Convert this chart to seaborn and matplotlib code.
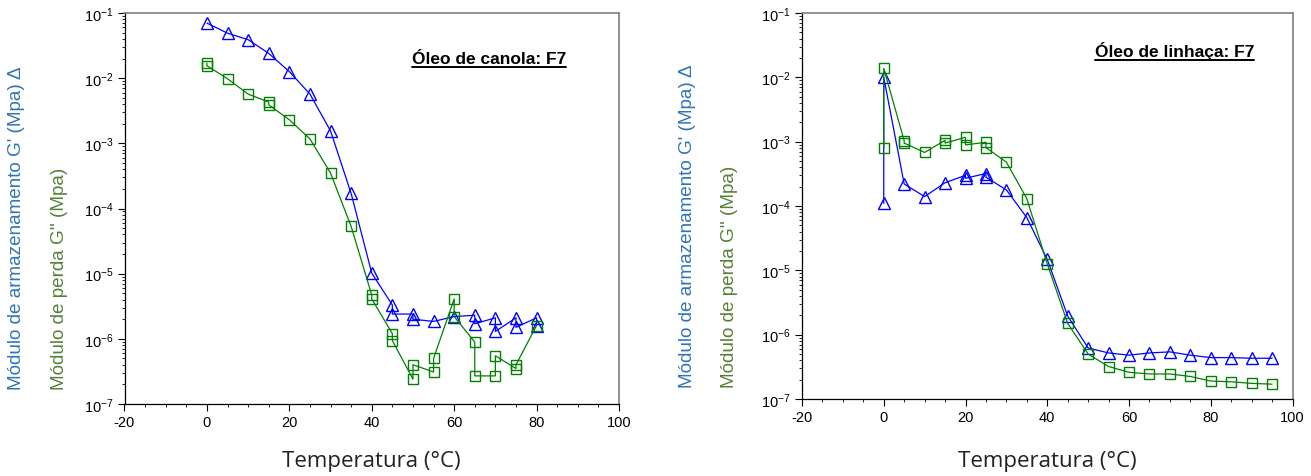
import numpy as np
import pandas as pd
import matplotlib
matplotlib.use("Agg")
import matplotlib.pyplot as plt
from matplotlib.ticker import LogLocator, MultipleLocator, NullFormatter
from matplotlib.lines import Line2D
import seaborn as sns

# ---------------- data ----------------
# Left panel: Óleo de canola F7
canola_g1_temp = [0, 5, 10, 15, 20, 25, 30, 35, 40, 45, 45, 50, 50, 55, 60, 65, 65, 70, 70, 75, 75, 80, 80]
canola_g1 = [0.070, 0.049, 0.039, 0.024, 0.0126, 0.0057, 0.00155, 1.7e-4, 1.02e-5,
             3.3e-6, 2.4e-6, 2.4e-6, 2.0e-6, 1.85e-6, 2.2e-6, 2.3e-6, 1.7e-6,
             2.1e-6, 1.3e-6, 2.1e-6, 1.5e-6, 2.1e-6, 1.6e-6]
canola_g2_temp = [0, 0, 5, 10, 15, 15, 20, 25, 30, 35, 40, 40, 45, 45, 50, 50, 55, 55,
                  60, 60, 65, 65, 70, 70, 75, 75, 80]
canola_g2 = [0.017, 0.0155, 0.0098, 0.0057, 0.0043, 0.0039, 0.0023, 0.00117, 3.5e-4,
             5.3e-5, 4.7e-6, 4.1e-6, 1.2e-6, 9.4e-7, 2.4e-7, 4.0e-7, 3.1e-7, 5.0e-7,
             4.1e-6, 2.2e-6, 8.9e-7, 2.7e-7, 2.7e-7, 5.5e-7, 3.5e-7, 4.0e-7, 1.6e-6]

# Right panel: Óleo de linhaça F7
linhaca_g1_temp = [0, 0, 5, 10, 15, 20, 20, 25, 25, 30, 35, 40, 45, 50, 55, 60, 65, 70,
                   75, 80, 85, 90, 95]
linhaca_g1 = [1.1e-4, 0.0100, 2.2e-4, 1.4e-4, 2.3e-4, 3.0e-4, 2.7e-4, 3.2e-4, 2.8e-4,
              1.78e-4, 6.6e-5, 1.48e-5, 1.95e-6, 6.2e-7, 5.2e-7, 4.8e-7, 5.2e-7,
              5.4e-7, 4.8e-7, 4.4e-7, 4.4e-7, 4.3e-7, 4.3e-7]
linhaca_g2_temp = [0, 0, 5, 5, 10, 15, 15, 20, 20, 25, 25, 30, 35, 40, 45, 50, 55, 60,
                   65, 70, 75, 80, 85, 90, 95]
linhaca_g2 = [8.1e-4, 0.0138, 1.03e-3, 9.5e-4, 6.8e-4, 1.05e-3, 9.5e-4, 1.17e-3, 8.9e-4,
              9.8e-4, 8.1e-4, 4.8e-4, 1.3e-4, 1.26e-5, 1.5e-6, 5.0e-7, 3.2e-7, 2.6e-7,
              2.45e-7, 2.45e-7, 2.24e-7, 1.9e-7, 1.85e-7, 1.75e-7, 1.7e-7]

titles = ["Óleo de canola: F7", "Óleo de linhaça: F7"]
xlabel = "Temperatura (°C)"
ylabel_g1 = "Módulo de armazenamento G' (Mpa) Δ"
ylabel_g2 = "Módulo de perda G'' (Mpa)"

# ---------------- style ----------------
sns.set_style("ticks")
plt.rcParams["font.family"] = ["Liberation Sans", "DejaVu Sans"]
plt.rcParams["axes.unicode_minus"] = False
plt.rcParams["mathtext.default"] = "regular"

BLUE = "#0000ff"
GREEN = "#008000"
LBL_BLUE = "#2e75b6"
LBL_GREEN = "#548235"

fig = plt.figure(figsize=(13.11, 4.77), dpi=100)
W, H = 1311, 477

def fx(px):
    return px / W

def fy(py):
    return 1 - py / H

ax_specs = [
    (124.5, 619.0, 14.0, 405.0),
    (802.0, 1292.5, 14.0, 400.0),
]
datasets = [
    (canola_g1_temp, canola_g1, canola_g2_temp, canola_g2),
    (linhaca_g1_temp, linhaca_g1, linhaca_g2_temp, linhaca_g2),
]
title_pos = [(411.7, 64.0), (1095.0, 57.5)]
ylab_x = [(17.0, 60.0), (687.0, 730.0)]
ylab_bottom = [390.0, 388.0]

axes = []
for i, (l, r, t, b) in enumerate(ax_specs):
    ax = fig.add_axes([fx(l), fy(b), (r - l) / W, (b - t) / H])
    axes.append(ax)
    t1, v1, t2, v2 = datasets[i]
    df1 = pd.DataFrame({"T": t1, "G": v1})
    df2 = pd.DataFrame({"T": t2, "G": v2})
    sns.lineplot(data=df1, x="T", y="G", ax=ax, estimator=None, sort=False,
                 color=BLUE, lw=0.9, marker="^", markersize=8.5,
                 markerfacecolor="none", markeredgecolor=BLUE, markeredgewidth=1.0)
    sns.lineplot(data=df2, x="T", y="G", ax=ax, estimator=None, sort=False,
                 color=GREEN, lw=0.9, marker="s", markersize=7,
                 markerfacecolor="none", markeredgecolor=GREEN, markeredgewidth=1.0)
    ax.set_yscale("log")
    ax.set_ylim(1e-7, 1e-1)
    ax.set_xlim(-20, 100)
    ax.xaxis.set_major_locator(MultipleLocator(20))
    ax.xaxis.set_minor_locator(MultipleLocator(5))
    ax.yaxis.set_major_locator(LogLocator(base=10, numticks=20))
    ax.yaxis.set_minor_locator(LogLocator(base=10, subs=np.arange(2, 10), numticks=20))
    ax.yaxis.set_minor_formatter(NullFormatter())
    ax.set_xlabel("")
    ax.set_ylabel("")
    ax.tick_params(axis="both", which="major", direction="out", length=5, width=0.8,
                   colors="black", labelsize=10.5, labelcolor="black", pad=3)
    ax.tick_params(axis="both", which="minor", direction="out", length=2.5, width=0.6,
                   colors="black")
    ax.tick_params(axis="y", which="major", labelsize=10.5)
    for s in ["left", "bottom"]:
        ax.spines[s].set_color("black")
        ax.spines[s].set_linewidth(0.9)
    for s in ["top", "right"]:
        ax.spines[s].set_visible(True)
        ax.spines[s].set_color("#7f7f7f")
        ax.spines[s].set_linewidth(1.2)

    # x label
    cx = (l + r) / 2
    fig.text(fx(cx), fy(462), xlabel, ha="center", va="center",
             fontsize=16, color="#222222", family=["Open Sans", "DejaVu Sans"])
    # y labels
    fig.text(fx(ylab_x[i][0]), fy(ylab_bottom[i]), ylabel_g1, rotation=90,
             ha="center", va="bottom", fontsize=13.6, color=LBL_BLUE)
    fig.text(fx(ylab_x[i][1]), fy(ylab_bottom[i]), ylabel_g2, rotation=90,
             ha="center", va="bottom", fontsize=13.6, color=LBL_GREEN)

# titles with underline
title_texts = []
for i, (tx, ty) in enumerate(title_pos):
    txt = fig.text(fx(tx), fy(ty), titles[i], ha="left", va="baseline",
                   fontsize=12.5, fontweight="bold", color="black")
    title_texts.append(txt)

fig.canvas.draw()
renderer = fig.canvas.get_renderer()
for txt in title_texts:
    bb = txt.get_window_extent(renderer=renderer)
    yline = txt.get_position()[1] - 3.5 / H
    fig.add_artist(Line2D([bb.x0 / W, bb.x1 / W], [yline, yline],
                          transform=fig.transFigure, color="black", lw=1.4))

fig.savefig("out.png", dpi=100)
